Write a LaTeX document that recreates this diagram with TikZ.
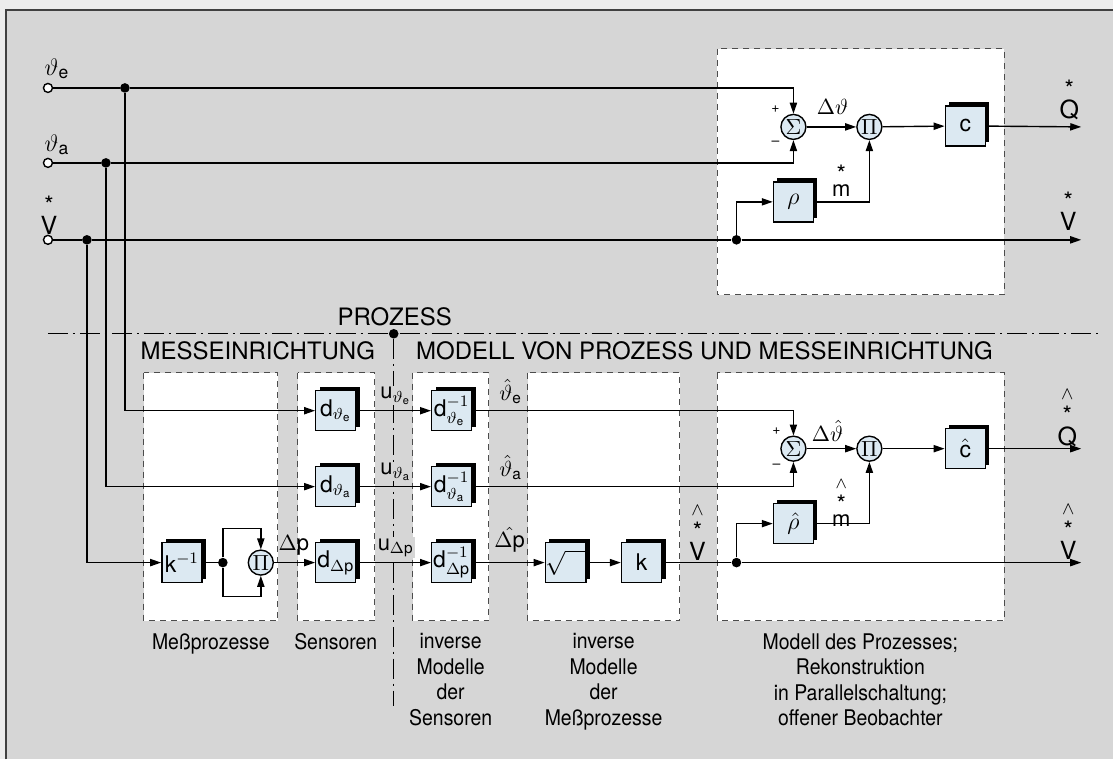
\documentclass[tikz,border=0pt]{standalone}
\usepackage{amsmath}
\usepackage{fontspec}
\setmainfont{TeX Gyre Heros}
\newfontfamily\capfont[FakeStretch=0.9]{TeX Gyre Heros}
\usepackage{xcolor}
\usetikzlibrary{arrows.meta, shadows}

\definecolor{paper}{RGB}{214,214,214}
\definecolor{margin}{RGB}{236,236,236}
\definecolor{blockfill}{RGB}{220,233,242}

% Groesse mit Stern (und Dach) darueber
\newcommand{\sst}[1]{\overset{\raisebox{-1.5pt}{\mbox{\large *}}}{\text{#1}}}
\newcommand{\hst}[1]{\overset{\wedge}{\sst{#1}}}

\begin{document}
\begin{tikzpicture}[x=0.5pt, y=-0.5pt,
        every node/.style={font=\fontsize{11}{13}\selectfont},
        block/.style={draw, fill=blockfill, line width=0.7pt, minimum size=20pt, inner sep=0pt,
            font=\fontsize{11.5}{13}\selectfont,
            drop shadow={shadow xshift=2pt, shadow yshift=2pt, fill=black, opacity=1}},
        op/.style={circle, draw, fill=blockfill, line width=0.7pt, minimum size=12.5pt, inner sep=0pt},
        region/.style={draw=black!70, dash pattern=on 3pt off 2.5pt, fill=white, line width=0.5pt},
        sep/.style={line width=0.7pt, dash pattern=on 10pt off 2.5pt on 1pt off 2.5pt},
        arrow/.style={-{Triangle[length=5.5pt, width=3.6pt]}, line width=0.7pt},
        wire/.style={line width=0.7pt},
        dot/.style={circle, fill=black, inner sep=0pt, minimum size=4.8pt},
        port/.style={circle, draw, fill=white, inner sep=0pt, minimum size=4.5pt, line width=0.7pt},
        tag/.style={fill=paper, inner sep=0.5pt},
        inlabel/.style={font=\fontsize{12.5}{14}\selectfont},
        head/.style={font=\fontsize{12}{14}\selectfont},
        caption/.style={anchor=north, align=center, font=\capfont\fontsize{10.8}{12.75}\selectfont},
        sign/.style={font=\scriptsize}
    ]
    % Hintergrund und Rahmen
    \fill[margin] (0,0) rectangle (1114,760);
    \fill[paper] (6,10) rectangle (1114,760);
    \draw[black!75, line width=0.8pt] (6,760) -- (6,10) -- (1114,10);

    % Bereiche
    \draw[region] (718,49) rectangle (1005,295);
    \draw[region] (144,373) rectangle (278,621);
    \draw[region] (298,373) rectangle (375,621);
    \draw[region] (413,373) rectangle (489,621);
    \draw[region] (528,373) rectangle (680,621);
    \draw[region] (718,373) rectangle (1005,621);

    % Trennlinien
    \node[dot] (pdot) at (394,334) {};
    \draw[sep] (48,334) -- (1100,334);
    \draw[sep] (pdot) -- (394,706);

    % Eingaenge
    \node[port] (ine) at (48,88) {};
    \node[port] (ina) at (48,163) {};
    \node[port] (inv) at (48,240) {};
    \node[dot] (je) at (125,88) {};
    \node[dot] (ja) at (106,163) {};
    \node[dot] (jv) at (87,240) {};

    % Prozess
    \node[op] (sum) at (794,127) {$\Sigma$};
    \node[op] (prod) at (870,127) {$\Pi$};
    \node[block] (c) at (966,126) {c};
    \node[block] (rho) at (794,202) {$\rho$};
    \node[dot] (jrho) at (737,240) {};
    \coordinate (outq) at (1082,127);
    \coordinate (outv) at (1082,240);

    \draw[wire] (ine) -- (je);
    \draw[wire] (ina) -- (ja);
    \draw[wire] (inv) -- (jv) -- (jrho);
    \draw[arrow] (je) -| (sum);
    \draw[arrow] (ja) -| (sum);
    \draw[arrow] (sum) -- (prod);
    \draw[arrow] (prod) -- (c);
    \draw[arrow] (c) -- (outq);
    \draw[arrow] (jrho) -- (outv);
    \draw[arrow] (jrho) |- (rho);
    \draw[arrow] (rho) -| (prod);

    % Messprozesse und Sensoren
    \node[block] (kinv) at (182,563) {k$^{-1}$};
    \node[dot] (jk) at (223,563) {};
    \node[op] (pim) at (261,563) {$\Pi$};
    \node[block] (de) at (336,411) {d$_{\vartheta_\text{e}}$};
    \node[block] (da) at (336,487) {d$_{\vartheta_\text{a}}$};
    \node[block] (ddp) at (336,563) {d$_{\Delta\text{p}}$};

    \draw[arrow] (je) |- (de);
    \draw[arrow] (ja) |- (da);
    \draw[arrow] (jv) |- (kinv);
    \draw[wire] (kinv) -- (jk);
    \draw[arrow] (jk) -- ++(0,-34) -| (pim);
    \draw[arrow] (jk) -- ++(0,34) -| (pim);
    \draw[arrow] (pim) -- (ddp);

    % inverse Modelle
    \node[block] (die) at (452,411) {d$^{-1}_{\vartheta_\text{e}}$};
    \node[block] (dia) at (452,487) {d$^{-1}_{\vartheta_\text{a}}$};
    \node[block] (didp) at (452,563) {d$^{-1}_{\Delta\text{p}}$};
    \node[block] (sq) at (566,563) {$\sqrt{\phantom{m}}$};
    \node[block] (k) at (642,563) {k};

    \draw[arrow] (de) -- (die);
    \draw[arrow] (da) -- (dia);
    \draw[arrow] (ddp) -- (didp);
    \draw[arrow] (didp) -- (sq);
    \draw[arrow] (sq) -- (k);

    % Modell des Prozesses
    \node[op] (msum) at (794,449) {$\Sigma$};
    \node[op] (mprod) at (870,449) {$\Pi$};
    \node[block] (mc) at (966,449) {$\hat{\text{c}}$};
    \node[block] (mrho) at (794,524) {$\hat{\rho}$};
    \node[dot] (jmrho) at (737,563) {};
    \coordinate (moutq) at (1082,449);
    \coordinate (moutv) at (1082,563);

    \draw[arrow] (die) -| (msum);
    \draw[arrow] (dia) -| (msum);
    \draw[arrow] (msum) -- (mprod);
    \draw[arrow] (mprod) -- (mc);
    \draw[arrow] (mc) -- (moutq);
    \draw[wire] (k) -- (jmrho);
    \draw[arrow] (jmrho) -- (moutv);
    \draw[arrow] (jmrho) |- (mrho);
    \draw[arrow] (mrho) -| (mprod);

    % Beschriftungen
    \node[inlabel] (lte) at (57,69) {$\vartheta_\text{e}$};
    \node[inlabel] (lta) at (57,145) {$\vartheta_\text{a}$};
    \node[inlabel] (lv) at (49,214) {$\sst{V}$};
    \node[sign] (pl) at (776,109) {+};
    \node[sign] (mi) at (776,143) {--};
    \node (ldt) at (833,107) {$\Delta\vartheta$};
    \node (lm) at (842,180) {$\sst{m}$};
    \node[inlabel] (lq) at (1070,99) {$\sst{Q}$};
    \node[inlabel] (lvo) at (1069,210) {$\sst{V}$};
    \node[sign] (mpl) at (777,431) {+};
    \node[sign] (mmi) at (777,467) {--};
    \node (mldt) at (828,431) {$\Delta\hat{\vartheta}$};
    \node (mlm) at (842,502) {$\hst{m}$};
    \node[inlabel] (mlq) at (1068,417) {$\hst{Q}$};
    \node[inlabel] (mlvo) at (1069,531) {$\hst{V}$};
    \node[inlabel] (mlv) at (698,532) {$\hst{V}$};
    \node (ldp) at (294,546) {$\Delta$p};
    \node[tag] (ue) at (396,396) {u$_{\vartheta_\text{e}}$};
    \node[tag] (ua) at (396,472) {u$_{\vartheta_\text{a}}$};
    \node[tag] (udp) at (396,548) {u$_{\Delta\text{p}}$};
    \node (hte) at (511,392) {$\hat{\vartheta}_\text{e}$};
    \node (hta) at (511,468) {$\hat{\vartheta}_\text{a}$};
    \node (hdp) at (510,540) {$\hat{\Delta\text{p}}$};

    \node[head] (prozess) at (395,317) {PROZESS};
    \node[head] (messein) at (258,351) {MESSEINRICHTUNG};
    \node[head] (modell) at (705,351) {MODELL VON PROZESS UND MESSEINRICHTUNG};

    \node[caption] (cap1) at (211,627) {Meßprozesse};
    \node[caption] (cap2) at (336,627) {Sensoren};
    \node[caption] (cap3) at (451,627) {inverse\\Modelle\\der\\Sensoren};
    \node[caption] (cap4) at (604,627) {inverse\\Modelle\\der\\Meßprozesse};
    \node[caption] (cap5) at (861,627) {Modell des Prozesses;\\Rekonstruktion\\in Parallelschaltung;\\offener Beobachter};
\end{tikzpicture}
\end{document}
